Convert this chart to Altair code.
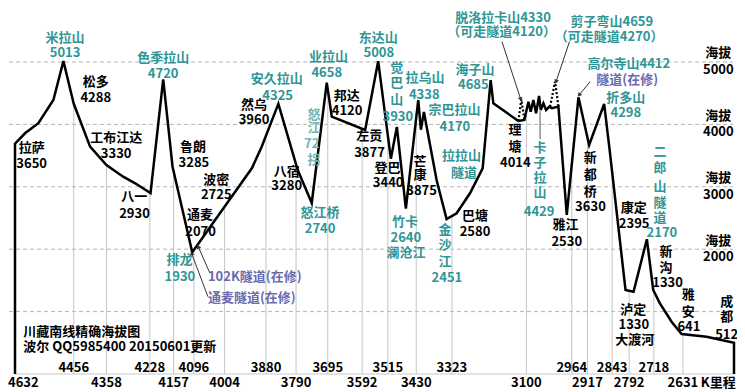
import math
import altair as alt
import numpy as np
import pandas as pd

# ---------------- data ----------------
profile_km = [4632, 4632, 4602, 4562, 4517, 4487, 4456, 4407, 4358, 4308, 4272, 4226, 4188, 4160,
              4101, 3922, 3893, 3843, 3785, 3743, 3698, 3683, 3583, 3544, 3506, 3488, 3461, 3424,
              3416, 3407, 3369, 3339, 3309, 3269, 3231, 3207, 3199, 3124, 3106, 3094, 3087, 3079,
              3071, 3062, 3057, 3049, 3041, 3031, 3023, 3004, 2979, 2944, 2912, 2867, 2850, 2803,
              2779, 2739, 2720, 2700, 2665, 2635, 2560, 2478, 2478]
profile_m = [0, 3690, 3857, 4018, 4391, 5013, 4330, 3643, 3349, 3162, 3056, 2900, 4720, 3322,
             1950, 3301, 3643, 4330, 3269, 2740, 4670, 4123, 3910, 5013, 3450, 3960, 2650, 4390,
             3915, 4200, 3109, 2484, 2575, 2896, 3296, 4710, 4338, 4054, 4071, 4364, 4204, 4391,
             4178, 4455, 4231, 4338, 4231, 4284, 4258, 4284, 2548, 4434, 3670, 4327, 3562, 1346,
             1319, 2159, 1346, 1133, 838, 641, 598, 500, 0]
assert len(profile_km) == len(profile_m)

# old mountain roads above the tunnels (dotted)
dotted_km = [[3124, 3115, 3106], [3029, 3014, 3004]]
dotted_m = [[4054, 4400, 4071], [4284, 4684, 4284]]

grid_m = [1000, 2000, 3000, 4000, 5000]
right_grid_m = [2000, 3000, 4000, 5000]
right_label_km = 2525

axis_row1_km = [4456, 4228, 4096, 3880, 3695, 3515, 3323, 2964, 2843, 2718]
axis_row2_km = [4358, 4157, 4004, 3790, 3592, 3430, 3100, 2917, 2792, 2631]
axis_first_km = 4632
axis_unit_label = "K里程"
axis_unit_km = 2525

black_labels = [
    ("拉萨", 4582, 3617), ("3650", 4582, 3361),
    ("松多", 4390, 4684), ("4288", 4390, 4418),
    ("工布江达", 4329, 3787), ("3330", 4329, 3526),
    ("八一", 4275, 2832), ("2930", 4274, 2564),
    ("鲁朗", 4099, 3643), ("3285", 4096, 3377),
    ("波密", 4029, 3109), ("2725", 4029, 2869),
    ("通麦", 4078, 2548), ("2070", 4076, 2281),
    ("然乌", 3916, 4311), ("3960", 3916, 4071),
    ("八宿", 3818, 3242), ("3280", 3818, 3018),
    ("邦达", 3638, 4455), ("4120", 3637, 4215),
    ("左贡", 3571, 3814), ("3877", 3570, 3547),
    ("登巴", 3516, 3296), ("3440", 3514, 3056),
    ("芒", 3419, 3402), ("康", 3419, 3189), ("3875", 3414, 2938),
    ("巴塘", 3254, 2532), ("2580", 3254, 2281),
    ("理", 3134, 3910), ("塘", 3134, 3643), ("4014", 3133, 3387),
    ("雅江", 2983, 2388), ("2530", 2979, 2121),
    ("新", 2909, 3457), ("都", 2909, 3189), ("桥", 2909, 2922), ("3630", 2908, 2682),
    ("康定", 2778, 2655), ("2395", 2777, 2404),
    ("新", 2682, 1960), ("沟", 2682, 1694), ("1330", 2677, 1453),
    ("泸定", 2780, 1026), ("1330", 2778, 785), ("大渡河", 2775, 545),
    ("雅", 2615, 1266), ("安", 2615, 998), ("641", 2613, 758),
    ("成", 2500, 1159), ("都", 2500, 909), ("512", 2500, 625),
]
teal_labels = [
    ("米拉山", 4482, 5390), ("5013", 4482, 5140),
    ("色季拉山", 4188, 5059), ("4720", 4188, 4808),
    ("排龙", 4139, 1827), ("1930", 4138, 1550),
    ("安久拉山", 3848, 4723), ("4325", 3845, 4460),
    ("业拉山", 3693, 5075), ("4658", 3698, 4819),
    ("怒江桥", 3718, 2585), ("2740", 3718, 2319),
    ("东达山", 3544, 5390), ("5008", 3542, 5140),
    ("觉", 3488, 4899), ("巴", 3488, 4659), ("山", 3488, 4391), ("3930", 3485, 4124),
    ("竹卡", 3464, 2441), ("2640", 3461, 2175), ("澜沧江", 3461, 1934),
    ("拉乌山", 3404, 4739), ("4338", 3406, 4471),
    ("宗巴拉山", 3315, 4231), ("4170", 3314, 3963),
    ("金", 3344, 2308), ("沙", 3344, 2067), ("江", 3344, 1800), ("2451", 3338, 1534),
    ("拉拉山", 3294, 3494), ("隧道", 3287, 3216),
    ("海子山", 3254, 4872), ("4685", 3259, 4632),
    ("脱洛拉卡山4330", 3170, 5710), ("（可走隧道4120）", 3174, 5486),
    ("剪子弯山4659", 2844, 5646), ("（可走隧道4270）", 2852, 5406),
    ("高尔寺山4412", 2793, 4963),
    ("折多山", 2802, 4428), ("4298", 2802, 4178),
    ("卡", 3059, 3617), ("子", 3059, 3377), ("拉", 3059, 3136), ("山", 3059, 2896),
    ("4429", 3062, 2601),
    ("二", 2700, 3563), ("郎", 2700, 3296), ("山", 2700, 3002), ("隧", 2700, 2736),
    ("道", 2700, 2495), ("2170", 2694, 2255),
]
light_teal_labels = [("怒", 3736, 4151), ("江", 3736, 3938), ("72", 3743, 3686), ("拐", 3736, 3430)]
purple_center_labels = [("隧道(在修)", 2798, 4712)]
purple_left_labels = [("102K隧道(在修)", 4054, 1550), ("通麦隧道(在修)", 4054, 1213)]
note_labels = [("川藏南线精确海拔图", 4607, 678), ("波尔 QQ5985400 20150601更新", 4607, 438)]

arrow_tail_km = [3173, 2971, 2909, 4048, 4054]
arrow_tail_m = [5325, 5325, 4684, 1614, 1239]
arrow_head_km = [3117, 3011, 2942, 4083, 4103]
arrow_head_m = [4402, 4684, 4471, 2040, 1934]
leader_km = [3059]
leader_top_m = [4215]
leader_bot_m = [3760]

# ---------------- scales / styles ----------------
W, H = 719, 366
KM_MIN, KM_MAX = 2478, 4632
M_MAX = 5865
FONT = "Noto Sans CJK SC"
TEAL = "#2f9595"
LIGHT_TEAL = "#6fb5b5"
PURPLE = "#6a6aae"

xs = alt.Scale(domain=[KM_MIN, KM_MAX], reverse=True, nice=False, zero=False)
ys = alt.Scale(domain=[0, M_MAX], nice=False, zero=False)


def X(f):
    return alt.X(f, type="quantitative", scale=xs, axis=None)


def Y(f):
    return alt.Y(f, type="quantitative", scale=ys, axis=None)


def label_df(items):
    return pd.DataFrame(items, columns=["t", "km", "m"])


def text_layer(items, color, align="center", size=13):
    return alt.Chart(label_df(items)).mark_text(
        font=FONT, fontSize=size, fontWeight="bold", color=color, align=align, baseline="middle"
    ).encode(x=X("km"), y=Y("m"), text="t:N")


# grid
grid = alt.Chart(pd.DataFrame({"m": grid_m})).mark_rule(
    color="#b4b4b4", strokeDash=[4, 3], strokeWidth=1
).encode(y=Y("m"), x=alt.value(-6), x2=alt.value(W - 1))

base = alt.Chart(pd.DataFrame({"m": [0]})).mark_rule(color="#c8c8c8", strokeWidth=1).encode(
    y=Y("m"), x=alt.value(0), x2=alt.value(W)
)

# drop lines at the km stones
km_asc = np.array(profile_km[::-1], dtype=float)
m_asc = np.array(profile_m[::-1], dtype=float)
drop_km = axis_row1_km + axis_row2_km
drop_df = pd.DataFrame({"km": drop_km, "top": np.interp(drop_km, km_asc, m_asc), "bot": 0})
drops = alt.Chart(drop_df).mark_rule(color="#c4c4c4", strokeWidth=1).encode(
    x=X("km"), y=Y("top"), y2="bot:Q"
)

prof_df = pd.DataFrame({"km": profile_km, "m": profile_m, "i": range(len(profile_km))})
profile = alt.Chart(prof_df).mark_line(color="black", strokeWidth=2.5, strokeJoin="miter").encode(
    x=X("km"), y=Y("m"), order=alt.Order("i:Q")
)

dot_rows = []
for g, (ks, ms) in enumerate(zip(dotted_km, dotted_m)):
    for j, (k, m) in enumerate(zip(ks, ms)):
        dot_rows.append({"km": k, "m": m, "g": g, "i": j})
dotted = alt.Chart(pd.DataFrame(dot_rows)).mark_line(
    color="black", strokeWidth=2.2, strokeDash=[2, 2]
).encode(x=X("km"), y=Y("m"), detail="g:N", order=alt.Order("i:Q"))

# arrows
pxkm = W / (KM_MAX - KM_MIN)
pxm = H / M_MAX
arr = pd.DataFrame({"k1": arrow_tail_km, "m1": arrow_tail_m, "k2": arrow_head_km, "m2": arrow_head_m})
arr["ang"] = [
    (math.degrees(math.atan2(-(k2 - k1) * pxkm, (m2 - m1) * pxm)) + 360) % 360
    for k1, m1, k2, m2 in zip(arr.k1, arr.m1, arr.k2, arr.m2)
]
arrow_lines = alt.Chart(arr).mark_rule(color="#333333", strokeWidth=1).encode(
    x=X("k1"), y=Y("m1"), x2="k2:Q", y2="m2:Q"
)
arrow_heads = alt.Chart(arr).mark_point(
    shape="triangle-up", filled=True, size=22, color="#333333", opacity=1
).encode(x=X("k2"), y=Y("m2"), angle=alt.Angle("ang:Q", scale=None))

leader = alt.Chart(pd.DataFrame({"km": leader_km, "t": leader_top_m, "b": leader_bot_m})).mark_rule(
    color="#555555", strokeWidth=1
).encode(x=X("km"), y=Y("t"), y2="b:Q")

# right side altitude labels
rl = pd.DataFrame({"m": right_grid_m, "km": right_label_km, "t": [str(v) for v in right_grid_m]})
right_word = alt.Chart(rl).mark_text(
    font=FONT, fontSize=13, fontWeight="bold", color="black", dy=-8.5
).encode(x=X("km"), y=Y("m"), text=alt.value("海拔"))
right_num = alt.Chart(rl).mark_text(
    font=FONT, fontSize=13, fontWeight="bold", color="black", dy=8
).encode(x=X("km"), y=Y("m"), text="t:N")

# km labels along the bottom (two staggered rows)
r1 = pd.DataFrame({"km": axis_row1_km, "t": [str(v) for v in axis_row1_km]})
r2 = pd.DataFrame({"km": axis_row2_km + [axis_unit_km],
                   "t": [str(v) for v in axis_row2_km] + [axis_unit_label]})
row1 = alt.Chart(r1).mark_text(font=FONT, fontSize=13, fontWeight="bold", color="black").encode(
    x=X("km"), y=alt.value(360), text="t:N"
)
row2 = alt.Chart(r2).mark_text(font=FONT, fontSize=13, fontWeight="bold", color="black").encode(
    x=X("km"), y=alt.value(375), text="t:N"
)
first = alt.Chart(pd.DataFrame({"km": [axis_first_km], "t": [str(axis_first_km)]})).mark_text(
    font=FONT, fontSize=13, fontWeight="bold", color="black", align="left", dx=-7
).encode(x=X("km"), y=alt.value(375), text="t:N")

chart = alt.layer(
    grid, base, drops, profile, dotted, arrow_lines, arrow_heads, leader,
    text_layer(black_labels, "black"),
    text_layer(teal_labels, TEAL),
    text_layer(light_teal_labels, LIGHT_TEAL),
    text_layer(purple_center_labels, PURPLE),
    text_layer(purple_left_labels, PURPLE, align="left"),
    text_layer(note_labels, "black", align="left"),
    right_word, right_num, row1, row2, first,
).properties(
    width=W, height=H,
    padding={"left": 7, "top": 0, "right": 3, "bottom": 16},
    autosize=alt.AutoSizeParams(type="none"),
    background="white",
).configure_view(stroke=None)

chart.save("out.html", embed_options={"renderer": "svg", "actions": False})
